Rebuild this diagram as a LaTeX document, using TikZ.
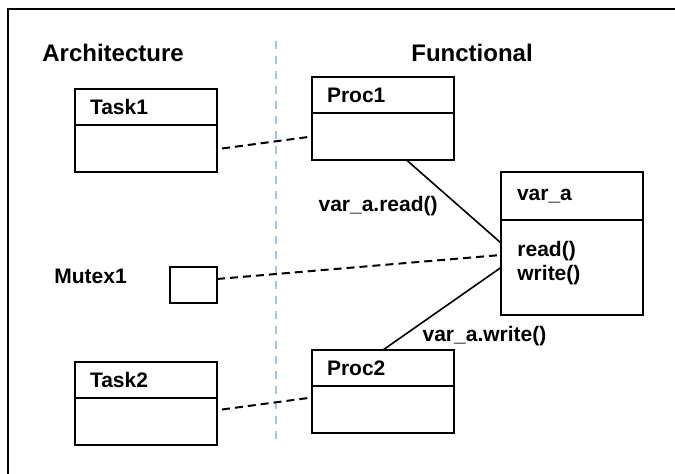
\documentclass[tikz,border=0pt]{standalone}
\usepackage{fontspec}
\setmainfont{Liberation Sans}
\usetikzlibrary{positioning, calc}
\definecolor{sepblue}{RGB}{150,200,250}

\begin{document}
\begin{tikzpicture}[x=0.5pt, y=-0.5pt, font=\fontsize{10.5}{12}\selectfont\bfseries,
    head/.style={draw, line width=1pt, outer sep=0pt, minimum width=71pt, minimum height=18pt, inner xsep=7.5pt,
        text width=56pt, align=left},
    body/.style={draw, line width=1pt, outer sep=0pt, minimum width=71pt, minimum height=23.5pt},
    heading/.style={anchor=west, inner sep=0, font=\fontsize{12}{14}\selectfont\bfseries},
    assoc/.style={dashed, line width=1pt, dash pattern=on 4pt off 2.5pt},
    link/.style={line width=0.8pt},
    lbl/.style={inner sep=0}]
        \useasboundingbox (0,0) rectangle (675,474);
        \draw[line width=1.2pt] (8,480) -- (8,9) -- (680,9);
        \draw[sepblue, line width=1pt, dash pattern=on 4pt off 3.5pt] (276,41) -- (276,440);
        \node[heading] (arch) at (42,53) {Architecture};
        \node[heading] (func) at (411,53) {Functional};
        % architecture side
        \node[head, anchor=north west] (task1) at (75,89) {Task1};
        \node[body, below=0pt of task1] (task1b) {};
        \node[heading, font=\fontsize{10.5}{12}\selectfont\bfseries] (mutexlbl) at (54,276) {Mutex1};
        \node[draw, line width=1pt, outer sep=0pt, minimum width=23.5pt, minimum height=18pt, anchor=north west] (mutex1) at (170,267) {};
        \node[head, anchor=north west] (task2) at (75,362) {Task2};
        \node[body, below=0pt of task2] (task2b) {};
        % functional side
        \node[head, anchor=north west] (proc1) at (312,77) {Proc1};
        \node[body, below=0pt of proc1] (proc1b) {};
        \node[head, anchor=north west] (proc2) at (312,350) {Proc2};
        \node[body, below=0pt of proc2] (proc2b) {};
        \node[head, anchor=north west, minimum height=24pt, inner xsep=8pt, text width=55pt] (vara) at (501,172) {var\_a};
        \node[body, below=0pt of vara, minimum height=47.5pt] (varab) {};
        \node[lbl, anchor=west, align=left] (ops) at (517,263) {read()\\write()};
        % connectors
        \draw[assoc] ([xshift=2.5pt]task1b.east) -- (proc1b.west);
        \draw[assoc] ([xshift=2.5pt, yshift=6pt]task2b.east) -- ([yshift=6pt]proc2b.west);
        \draw[assoc] ([yshift=3pt]mutex1.east) -- ([yshift=-17.5pt]varab.north west);
        \draw[link] ([xshift=11.75pt]proc1b.south) -- node[lbl, pos=0.55, left=10pt] {var\_a.read()} ([yshift=-11.5pt]varab.north west);
        \draw[link] (varab.west) -- node[lbl, pos=0.62, anchor=north west, xshift=-3pt, yshift=-3.5pt] {var\_a.write()} (proc2.north);
    \end{tikzpicture}
\end{document}
